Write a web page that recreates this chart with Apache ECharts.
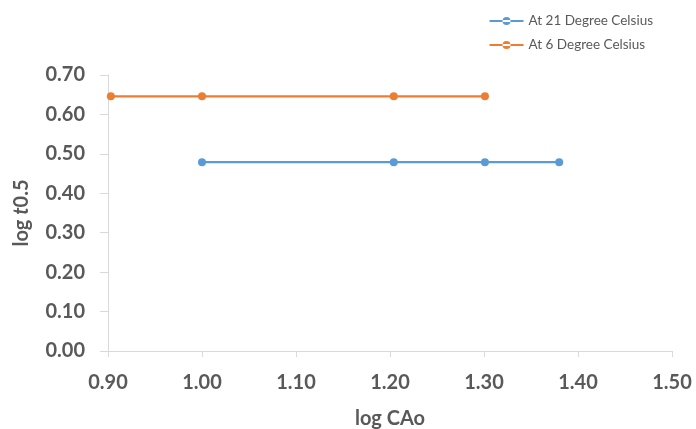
<!DOCTYPE html>
<html style="height: 100%">
<head>
    <meta charset="utf-8">
    <script src="https://cdn.jsdelivr.net/npm/echarts@6/dist/echarts.min.js"></script>
</head>
<body style="height: 100%; margin: 0; background: #fff">
    <div id="chart" style="width: 696px; height: 429px"></div>
    <script type="text/javascript">
        var seriesNames = ['At 21 Degree Celsius', 'At 6 Degree Celsius'];
        var logCA21 = [1.000, 1.204, 1.301, 1.380];
        var logT21 = [0.479, 0.479, 0.479, 0.479];
        var logCA6 = [0.903, 1.000, 1.204, 1.301];
        var logT6 = [0.646, 0.646, 0.646, 0.646];

        function pairs(xs, ys) {
            return xs.map(function (x, i) { return [x, ys[i]]; });
        }

        var labelStyle = { color: '#595959', fontFamily: 'Lato', fontWeight: 'bold', fontSize: 20 };
        var axisLine = { show: true, lineStyle: { color: '#d9d9d9', width: 1 } };

        var myChart = echarts.init(document.getElementById('chart'));
        myChart.setOption({
            animation: false,
            color: ['#5b9bd5', '#ed7d31'],
            grid: { left: 108, right: 24, top: 75, bottom: 78, outerBoundsMode: 'none', containLabel: false },
            legend: {
                orient: 'vertical',
                right: 38,
                top: 9,
                itemGap: 10,
                itemWidth: 34,
                itemHeight: 8,
                icon: 'path://M0,4h34v2h-34z M13,5a4,4 0 1,0 8,0a4,4 0 1,0 -8,0z',
                textStyle: { color: '#595959', fontFamily: 'Lato', fontSize: 13.5 },
                data: seriesNames
            },
            xAxis: {
                type: 'value',
                min: 0.9,
                max: 1.5,
                interval: 0.1,
                name: 'log CAo',
                nameLocation: 'middle',
                nameGap: 58,
                nameTextStyle: labelStyle,
                axisLine: axisLine,
                axisTick: { show: true, length: 6, lineStyle: { color: '#d9d9d9' } },
                splitLine: { show: false },
                axisLabel: Object.assign({ margin: 22, formatter: function (v) { return v.toFixed(2); } }, labelStyle)
            },
            yAxis: {
                type: 'value',
                min: 0,
                max: 0.7,
                interval: 0.1,
                name: '{a|log }{b|t}{a|0.5}',
                nameLocation: 'middle',
                nameGap: 76,
                nameTextStyle: {
                    rich: {
                        a: labelStyle,
                        b: Object.assign({}, labelStyle, { fontStyle: 'italic' })
                    }
                },
                axisLine: axisLine,
                axisTick: { show: true, inside: false, length: 8, lineStyle: { color: '#d9d9d9' } },
                splitLine: { show: false },
                axisLabel: Object.assign({ margin: 23, formatter: function (v) { return v.toFixed(2); } }, labelStyle)
            },
            series: [{
                name: seriesNames[0],
                type: 'line',
                data: pairs(logCA21, logT21),
                symbol: 'circle',
                symbolSize: 8,
                lineStyle: { width: 2.25 }
            }, {
                name: seriesNames[1],
                type: 'line',
                data: pairs(logCA6, logT6),
                symbol: 'circle',
                symbolSize: 8,
                lineStyle: { width: 2.25 }
            }]
        });
    </script>
</body>
</html>
